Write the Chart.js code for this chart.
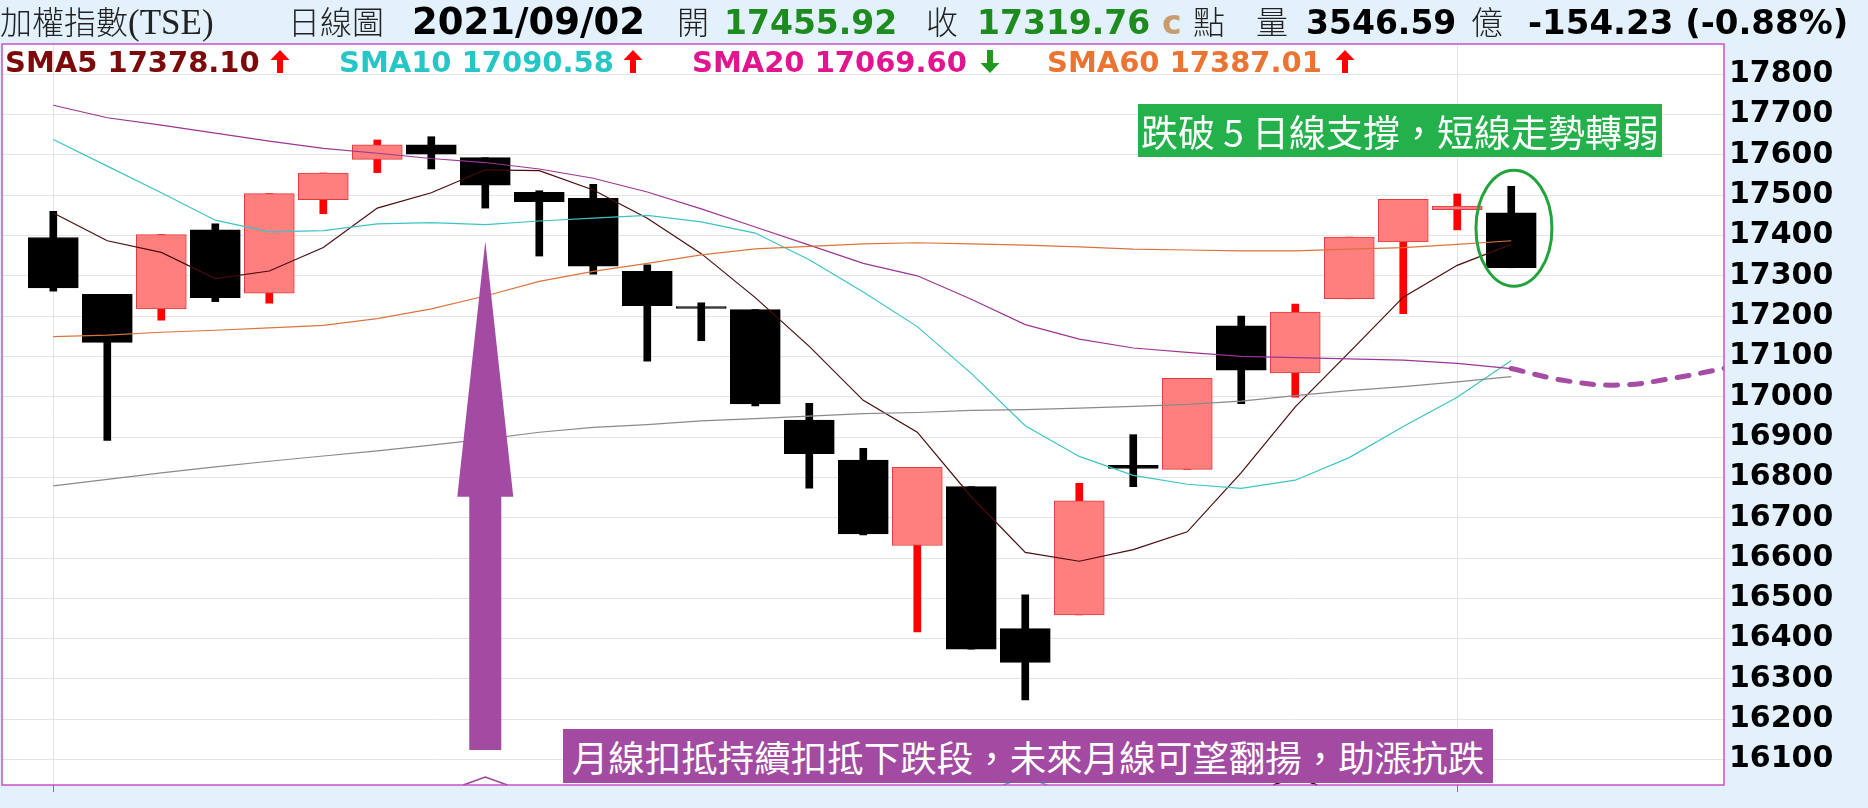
<!DOCTYPE html>
<html>
<head>
<meta charset="utf-8">
<script src="https://cdn.jsdelivr.net/npm/chart.js@4.4.1/dist/chart.umd.min.js"></script>
<style>
html, body { margin: 0; padding: 0; }
body { width: 1868px; height: 808px; overflow: hidden; position: relative; background: #e2f1fb; }
#chart { position: absolute; left: 0; top: 0; }
.txt { position: absolute; white-space: nowrap; line-height: normal; }
.arw { position: absolute; }
.note { position: absolute; display: flex; align-items: center; justify-content: center;
        color: #fff; font-family: "Noto Sans CJK TC", sans-serif; white-space: nowrap; }
</style>
</head>
<body>
<canvas id="chart" width="1868" height="808"></canvas>
<div class="note" style="left:1138px; top:104px; width:524px; height:53px; background:#24b04b; font-size:37px;">跌破 5 日線支撐，短線走勢轉弱</div>
<div class="note" style="left:563px; top:729px; width:930px; height:54px; background:#a34aa2; font-size:36.5px;">月線扣抵持續扣抵下跌段，未來月線可望翻揚，助漲抗跌</div>
<script>
// 日K (1..28), 最後一根 = 2021/09/02
const opens  = [17395, 17254, 17218, 17414, 17257, 17489, 17589, 17625, 17593, 17507,
                17492, 17311, 17222, 17216, 16942, 16843, 16631, 16777, 16425, 16459,
                16830, 16820, 17176, 17059, 17243, 17384, 17464, 17456];
const highs  = [17460, 17254, 17402, 17429, 17504, 17555, 17637, 17645, 17593, 17511,
                17527, 17327, 17233, 17216, 16984, 16872, 16825, 16777, 16509, 16785,
                16906, 17046, 17200, 17230, 17396, 17490, 17503, 17522];
const lows   = [17262, 16892, 17190, 17236, 17232, 17454, 17556, 17565, 17468, 17349,
                17304, 17088, 17139, 16977, 16773, 16657, 16417, 16374, 16248, 16459,
                16777, 16820, 16983, 16999, 17243, 17206, 17414, 17320];
const closes = [17270, 17135, 17402, 17246, 17504, 17555, 17625, 17602, 17525, 17484,
                17324, 17226, 17219, 16982, 16859, 16660, 16825, 16374, 16341, 16742,
                16822, 17046, 17066, 17210, 17396, 17490, 17473, 17320];

// 均線
const sma5   = [17456, 17387, 17358, 17293, 17312, 17370, 17468, 17506, 17563, 17561,
                17513, 17443, 17355, 17246, 17125, 16991, 16912, 16752, 16614, 16592,
                16621, 16665, 16812, 16975, 17110, 17247, 17326, 17378];
const sma10  = [17638, 17572, 17506, 17438, 17409, 17412, 17429, 17432, 17427, 17436,
                17443, 17450, 17434, 17406, 17340, 17260, 17174, 17058, 16928, 16852,
                16805, 16783, 16773, 16793, 16849, 16926, 16999, 17090];
const sma20  = [17723, 17692, 17674, 17654, 17634, 17616, 17604, 17591, 17581, 17565,
                17542, 17508, 17466, 17421, 17376, 17331, 17300, 17242, 17179, 17143,
                17121, 17110, 17100, 17097, 17094, 17091, 17083, 17070];
const sma60  = [17149, 17153, 17160, 17165, 17171, 17177, 17194, 17218, 17250, 17286,
                17311, 17331, 17352, 17367, 17373, 17379, 17382, 17379, 17376, 17372,
                17366, 17364, 17362, 17362, 17366, 17370, 17378, 17387];
const sma120 = [16779, 16795, 16811, 16826, 16840, 16853, 16866, 16880, 16895, 16912,
                16924, 16931, 16940, 16946, 16952, 16958, 16961, 16966, 16968, 16972,
                16976, 16981, 16989, 17003, 17015, 17025, 17037, 17050];

// 月線預估 (虛線)
const forecastX = [27, 28, 29, 30, 31];
const forecastY = [17070, 17040, 17029, 17046, 17072];

// 右側價格刻度
const yTicks = [16100, 16200, 16300, 16400, 16500, 16600, 16700, 16800, 16900,
                17000, 17100, 17200, 17300, 17400, 17500, 17600, 17700, 17800];

// 扣抵位置 (小三角) 與垂直格線
const deductX = [8, 18, 23];
const deductColors = ['#a040a0', '#30b8b8', '#2a0a0a'];
const gridDays = [0, 26];

// 標註: 箭頭 (位置, 尖端, 頸部, 底部), 圈選
const arrowAt = [8, 17386, 16752, 16124];
const ringAt = [27.05, 17418, 17562];

const UP_BODY = '#ff7f7f', UP_EDGE = '#e33b3b', UP_WICK = '#ff0000', DOWN = '#000000';
const isUp = opens.map((o, i) => closes[i] >= o);

const xy = arr => arr.map((v, i) => ({ x: i, y: v }));

const decor = {
    id: 'decor',
    beforeDraw(chart) {
        const { ctx, chartArea: a } = chart;
        ctx.save();
        ctx.fillStyle = '#e2f1fb';
        ctx.fillRect(0, 0, chart.width, chart.height);
        ctx.fillStyle = '#ffffff';
        ctx.fillRect(a.left, a.top, a.right - a.left, a.bottom - a.top);
        ctx.restore();
    },
    afterDatasetsDraw(chart) {
        const { ctx, chartArea: a, scales: { x, y } } = chart;
        ctx.save();

        // 箭頭
        const ax = x.getPixelForValue(arrowAt[0]);
        const tip = y.getPixelForValue(arrowAt[1]);
        const neck = y.getPixelForValue(arrowAt[2]);
        const foot = y.getPixelForValue(arrowAt[3]);
        ctx.fillStyle = '#a34aa2';
        ctx.beginPath();
        ctx.moveTo(ax, tip);
        ctx.lineTo(ax + 28, neck);
        ctx.lineTo(ax + 16, neck);
        ctx.lineTo(ax + 16, foot);
        ctx.lineTo(ax - 16, foot);
        ctx.lineTo(ax - 16, neck);
        ctx.lineTo(ax - 28, neck);
        ctx.closePath();
        ctx.fill();

        // 圈選最後一根
        const cx = x.getPixelForValue(ringAt[0]);
        const cy = y.getPixelForValue(ringAt[1]);
        const ry = cy - y.getPixelForValue(ringAt[2]);
        ctx.strokeStyle = '#22a33c';
        ctx.lineWidth = 3;
        ctx.beginPath();
        ctx.ellipse(cx, cy, 38, ry, 0, 0, Math.PI * 2);
        ctx.stroke();

        // 扣抵小三角
        ctx.lineWidth = 1.5;
        deductX.forEach((d, i) => {
            const px = x.getPixelForValue(d);
            ctx.strokeStyle = deductColors[i];
            ctx.beginPath();
            ctx.moveTo(px - 22, a.bottom);
            ctx.lineTo(px, a.bottom - 8);
            ctx.lineTo(px + 22, a.bottom);
            ctx.stroke();
        });

        // 外框
        ctx.strokeStyle = '#c94fc9';
        ctx.lineWidth = 1.5;
        ctx.strokeRect(a.left, a.top, a.right - a.left, a.bottom - a.top);
        ctx.restore();
    }
};

const lineDs = (label, data, color) => ({
    type: 'line', label, data: xy(data), borderColor: color, borderWidth: 1.2,
    pointRadius: 0, tension: 0, order: 0
});

new Chart(document.getElementById('chart'), {
    type: 'bar',
    data: {
        datasets: [
            lineDs('SMA120', sma120, '#8a8a8a'),
            lineDs('SMA60', sma60, '#d9743e'),
            lineDs('SMA20', sma20, '#9c3594'),
            lineDs('SMA10', sma10, '#3cc4c4'),
            lineDs('SMA5', sma5, '#4a0c0c'),
            {
                type: 'line', label: 'forecast',
                data: forecastX.map((v, i) => ({ x: v, y: forecastY[i] })),
                borderColor: '#a54ca5', borderWidth: 5, borderDash: [12, 12],
                borderCapStyle: 'round', tension: 0.4, pointRadius: 0, order: 0
            },
            {
                label: 'body',
                data: opens.map((o, i) => ({ x: i, y: [o, closes[i]] })),
                backgroundColor: isUp.map(u => u ? UP_BODY : DOWN),
                borderColor: isUp.map(u => u ? UP_EDGE : DOWN),
                borderWidth: 1, borderSkipped: false,
                barThickness: 50, minBarLength: 2, grouped: false, order: 1
            },
            {
                label: 'wick',
                data: lows.map((l, i) => ({ x: i, y: [l, highs[i]] })),
                backgroundColor: isUp.map(u => u ? UP_WICK : DOWN),
                borderWidth: 0,
                barThickness: 7, grouped: false, order: 2
            }
        ]
    },
    options: {
        responsive: false,
        animation: false,
        devicePixelRatio: 1,
        layout: { padding: { left: 2, top: 44, right: 0, bottom: 0 } },
        plugins: { legend: { display: false }, tooltip: { enabled: false } },
        scales: {
            x: {
                type: 'linear', min: -0.95, max: 30.94, bounds: 'data', offset: false,
                afterBuildTicks: s => { s.ticks = gridDays.map(v => ({ value: v })); },
                afterFit: s => { s.height = 7; },
                ticks: { display: false },
                grid: { offset: false, color: '#e4e4e4', drawTicks: true, tickLength: 7, tickColor: '#2b9aa5' },
                border: { display: false }
            },
            y: {
                type: 'linear', position: 'right', min: 16037, max: 17875, bounds: 'data',
                afterBuildTicks: s => { s.ticks = yTicks.map(v => ({ value: v })); },
                afterFit: s => { s.width = 144; },
                ticks: {
                    padding: 5, color: '#000',
                    font: { family: 'DejaVu Sans', weight: 'bold', size: 30 },
                    callback: v => String(v)
                },
                grid: { color: '#e4e4e4', drawTicks: false },
                border: { display: false }
            }
        }
    },
    plugins: [decor]
});

// 標題列 / 均線列文字
const FONTS = {
    cjk:   { family: '"Noto Sans CJK TC", sans-serif', weight: 300, ascent: 1.16 },
    serif: { family: '"Liberation Serif", serif', weight: 400, ascent: 0.891 },
    bold:  { family: '"DejaVu Sans", sans-serif', weight: 700, ascent: 0.928 }
};

const headerParts = [
    ['加權指數', 0, 'cjk', 32, '#222'],
    ['(TSE)', 128, 'serif', 35, '#222'],
    ['日線圖', 288, 'cjk', 32, '#222'],
    ['2021/09/02', 412, 'bold', 37, '#000'],
    ['開', 677, 'cjk', 32, '#222'],
    ['17455.92', 724, 'bold', 33, '#1d8b1d'],
    ['收', 926, 'cjk', 32, '#222'],
    ['17319.76', 977, 'bold', 33, '#1d8b1d'],
    ['c', 1162, 'bold', 33, '#c99c6e'],
    ['點', 1193, 'cjk', 32, '#222'],
    ['量', 1256, 'cjk', 32, '#222'],
    ['3546.59', 1306, 'bold', 33, '#000'],
    ['億', 1471, 'cjk', 32, '#222'],
    ['-154.23 (-0.88%)', 1528, 'bold', 34, '#000']
];

const legendParts = [
    ['SMA5 17378.10', 5, 'bold', 29, '#7d0a0a'],
    ['SMA10 17090.58', 339, 'bold', 29, '#26c6c6'],
    ['SMA20 17069.60', 692, 'bold', 29, '#e0158f'],
    ['SMA60 17387.01', 1047, 'bold', 29, '#ec7432']
];

// 均線方向箭頭: [x, 方向, 顏色]
const legendArrows = [
    [270, 'up', '#ff0000'],
    [623, 'up', '#ff0000'],
    [980, 'down', '#1f9a1f'],
    [1335, 'up', '#ff0000']
];

function place(parts, baseline) {
    parts.forEach(([text, left, key, size, color]) => {
        const f = FONTS[key];
        const s = document.createElement('span');
        s.className = 'txt';
        s.textContent = text;
        s.style.left = left + 'px';
        s.style.top = (baseline - f.ascent * size) + 'px';
        s.style.fontFamily = f.family;
        s.style.fontWeight = f.weight;
        s.style.fontSize = size + 'px';
        s.style.color = color;
        document.body.appendChild(s);
    });
}

function placeArrows(list, top) {
    const NS = 'http://www.w3.org/2000/svg';
    list.forEach(([left, dir, color]) => {
        const svg = document.createElementNS(NS, 'svg');
        svg.setAttribute('class', 'arw');
        svg.setAttribute('width', '20');
        svg.setAttribute('height', '23');
        svg.style.left = left + 'px';
        svg.style.top = top + 'px';
        const p = document.createElementNS(NS, 'polygon');
        p.setAttribute('points', dir === 'up'
            ? '10,0 19.5,10 13,10 13,23 7,23 7,10 0.5,10'
            : '10,23 19.5,13 13,13 13,0 7,0 7,13 0.5,13');
        p.setAttribute('fill', color);
        svg.appendChild(p);
        document.body.appendChild(svg);
    });
}

place(headerParts, 34);
place(legendParts, 72);
placeArrows(legendArrows, 50);
</script>
</body>
</html>
